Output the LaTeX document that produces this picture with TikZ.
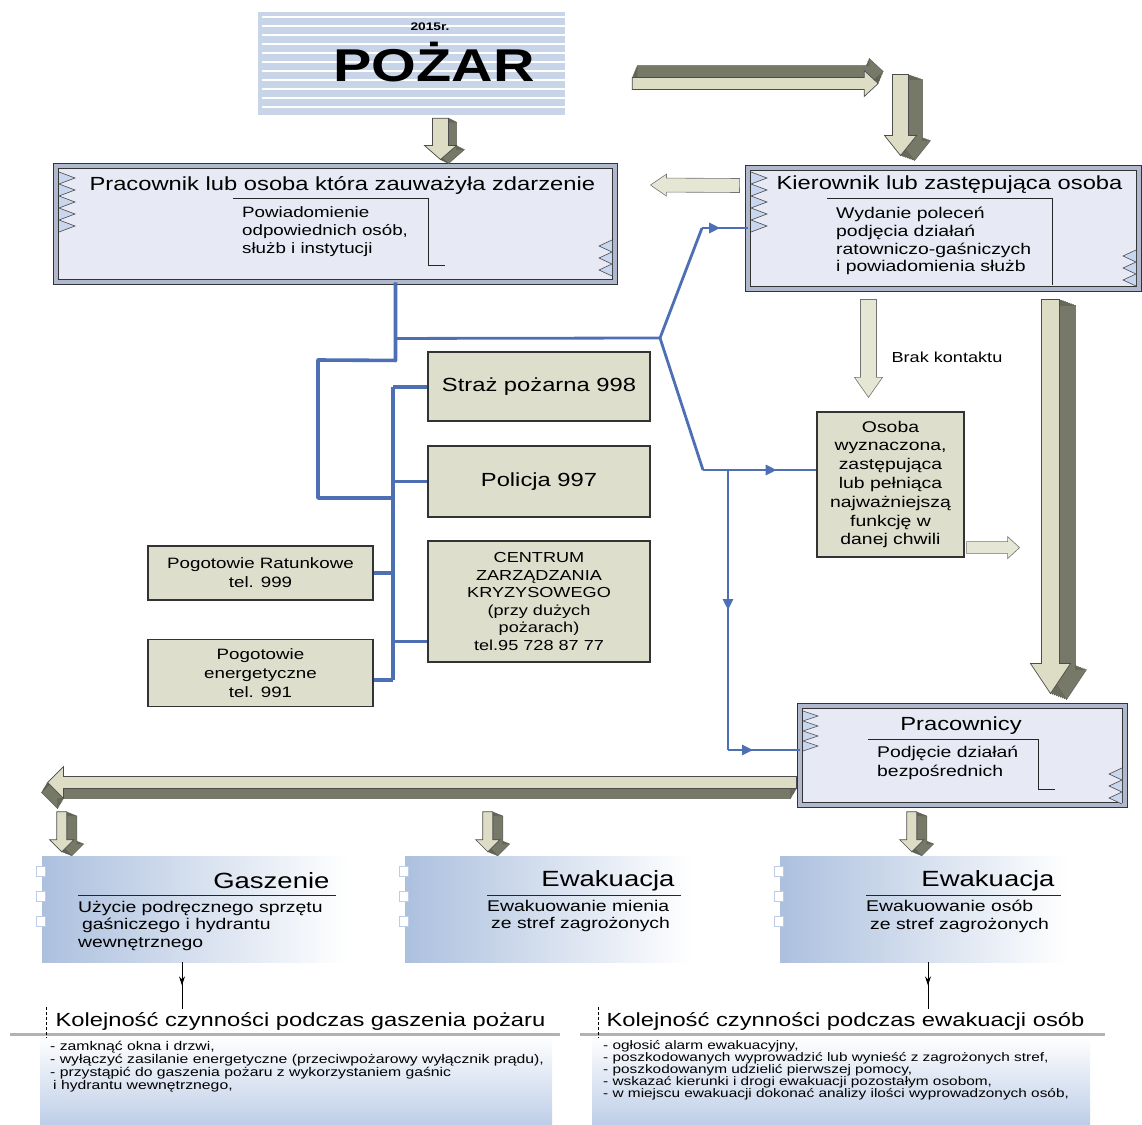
\documentclass[tikz,border=0pt]{standalone}
\usepackage{fontspec}
\setmainfont{Liberation Sans}[FakeStretch=1.25]
\usetikzlibrary{calc, arrows.meta, decorations.markings, positioning}
\definecolor{busBlue}{RGB}{77,112,180}
\definecolor{telBeige}{RGB}{221,222,204}
\definecolor{frameFill}{RGB}{231,234,245}
\definecolor{frameBand}{RGB}{176,184,206}
\definecolor{sawBlue}{RGB}{200,214,238}
\definecolor{arrowFace}{RGB}{221,221,198}
\definecolor{arrowSide}{RGB}{118,120,104}
\definecolor{arrowLight}{RGB}{230,230,212}
\definecolor{gradBlue}{RGB}{172,192,222}
\definecolor{pozarBlue}{RGB}{200,212,232}
\definecolor{panelBlue}{RGB}{190,206,232}

\newcommand{\fbig}{\fontsize{19}{22}\selectfont}
\newcommand{\fsub}{\fontsize{15}{18}\selectfont}
\newcommand{\fsmall}{\fontsize{15}{19}\selectfont}
\newcommand{\fhead}{\fontsize{22}{24}\selectfont}
\newcommand{\flist}{\fontsize{12.6}{13}\selectfont}

% block arrow: start, end, half shaft, half head, head length, style
\newcommand{\blockarr}[6]{%
  \coordinate (ba-s) at (#1);
  \coordinate (ba-e) at (#2);
  \coordinate (ba-h) at ($(ba-e)!#5pt!(ba-s)$);
  \path[#6] ($(ba-s)!#3pt!90:(ba-e)$) -- ($(ba-h)!#3pt!90:(ba-e)$) -- ($(ba-h)!#4pt!90:(ba-e)$)
    -- (ba-e) -- ($(ba-h)!#4pt!-90:(ba-e)$) -- ($(ba-h)!#3pt!-90:(ba-e)$) -- ($(ba-s)!#3pt!-90:(ba-e)$) -- cycle;
}
% same with a dark side, #6 = offset of the side
\newcommand{\blockthreed}[6]{%
  \foreach \k in {0.125,0.25,0.375,0.5,0.625,0.75,0.875,1} {%
    \begin{scope}[transform canvas={shift={($\k*(#6)$)}}]
      \blockarr{#1}{#2}{#3}{#4}{#5}{fill=arrowSide, draw=arrowSide!80!black, line width=0.5pt}
    \end{scope}}
  \blockarr{#1}{#2}{#3}{#4}{#5}{fill=arrowFace, draw=black!70, line width=0.7pt}
}
% zigzag edge: x, y, teeth, tooth height, tooth width
\newcommand{\saw}[5]{%
  \filldraw[fill=sawBlue, draw=black!70, line width=0.6pt] (#1,#2)
    \foreach \i in {1,...,#3} { -- ++({#5},{#4/2}) -- ++({-(#5)},{#4/2}) };
}

\begin{document}
\begin{tikzpicture}[x=1pt, y=-1pt,
    framebox/.style={rectangle, draw=black!80, line width=0.9pt, double=frameBand, double distance=4pt, fill=frameFill, inner sep=0pt},
    tel/.style={rectangle, draw=black!80, line width=1.2pt, fill=telBeige, align=center, inner sep=0pt},
    grad/.style={rectangle, left color=gradBlue, right color=white, inner sep=0pt},
    bus/.style={draw=busBlue, line width=3.6pt},
    buslink/.style={draw=busBlue, line width=2.8pt},
    flatarr/.style={fill=arrowLight, draw=black!55, line width=0.6pt},
    midarr/.style={postaction={decorate}, decoration={markings, mark=at position #1 with {\arrow[busBlue]{Triangle[length=11pt, width=10pt]}}}},
    tinyarr/.style={draw=black, line width=0.8pt, postaction={decorate}, decoration={markings, mark=at position 0.5 with {\arrow{Stealth[length=9pt, width=6pt]}}}}]

    \useasboundingbox (0,0) rectangle (1142,1124);

    % pozar
    \node[fill=pozarBlue, minimum width=307, minimum height=103, inner sep=0pt] (pozar) at (411.5,63.5) {};
    \foreach \yy in {17,26,...,110} \draw[white, line width=2.6pt] (262,\yy) -- (565,\yy);
    \node[font=\bfseries\fontsize{11}{12}\selectfont] (rok) at (430,27) {2015r.};
    \node[font=\bfseries\fontsize{46}{50}\selectfont] (pozar-t) at (434,62) {POŻAR};

    % main boxes
    \node[framebox, minimum width=559, minimum height=116] (prac) at (335.5,224) {};
    \node[framebox, minimum width=391, minimum height=121] (kier) at (943.5,228.5) {};
    \node[framebox, minimum width=325, minimum height=99] (pracw) at (962.5,755.5) {};

    \saw{59}{172}{5}{12}{16}
    \saw{612}{240}{3}{12}{-13}
    \saw{751}{172}{5}{12}{16}
    \saw{1136}{250}{3}{12}{-13}
    \saw{803}{711}{4}{10}{15}
    \saw{1122}{768}{3}{12}{-13}

    \node[anchor=west, font=\fbig] (prac-t) at (86,185) {Pracownik lub osoba która zauważyła zdarzenie};
    \draw[black!85, line width=1pt] (233,198) -- (428,198) -- (428,265) -- (445,265);
    \node[anchor=north west, align=left, inner sep=0pt, font=\fsub] (prac-s) at (242,206) {Powiadomienie\\odpowiednich osób,\\służb i instytucji};

    \node[anchor=west, font=\fbig] (kier-t) at (773,185) {Kierownik lub zastępująca osoba};
    \draw[black!85, line width=1pt] (827,198) -- (1052,198) -- (1052,285);
    \node[anchor=north west, align=left, inner sep=0pt, font=\fontsize{15.5}{17.7}\selectfont] (kier-s) at (836,207) {Wydanie poleceń\\podjęcia działań\\ratowniczo-gaśniczych\\i powiadomienia służb};

    \node[font=\fbig] (pracw-t) at (961,726) {Pracownicy};
    \draw[black!85, line width=1pt] (868,739) -- (1038,739) -- (1038,789) -- (1055,789);
    \node[anchor=north west, align=left, inner sep=0pt, font=\fontsize{15.5}{19}\selectfont] (pracw-s) at (877,746) {Podjęcie działań\\bezpośrednich};

    % services
    \node[tel, minimum width=222, minimum height=69, font=\fbig] (straz) at (539,386.5) {Straż pożarna 998};
    \node[tel, minimum width=222, minimum height=71, font=\fbig] (policja) at (539,481.5) {Policja 997};
    \node[tel, minimum width=222, minimum height=121, font=\fontsize{14.5}{17.6}\selectfont] (centrum) at (539,601.5)
        {CENTRUM\\ZARZĄDZANIA\\KRYZYSOWEGO\\(przy dużych\\pożarach)\\tel.95 728 87 77};
    \node[tel, minimum width=225, minimum height=54, font=\fsmall] (pograt) at (260.5,573) {Pogotowie Ratunkowe\\tel. 999};
    \node[tel, minimum width=225, minimum height=67, font=\fsmall] (pogen) at (260.5,673) {Pogotowie\\energetyczne\\tel. 991};
    \node[tel, minimum width=147, minimum height=145, font=\fontsize{15.5}{18.8}\selectfont] (osoba) at (890.5,484.5)
        {Osoba\\wyznaczona,\\zastępująca\\lub pełniąca\\najważniejszą\\funkcję w\\danej chwili};
    \node[anchor=west, font=\fontsize{14.5}{16}\selectfont] (brak) at (888,357) {Brak kontaktu};

    % blue lines
    \coordinate (j1) at ($(prac.south)+(60,56)$);
    \coordinate (j2) at ($(prac.south)+(60,78)$);
    \coordinate (jr) at (660,338);
    \coordinate (jk) at (702,228);
    \coordinate (jo) at (703,470);
    \coordinate (jv1) at (728,470);
    \coordinate (jv2) at (728,750);
    \coordinate (bt) at (393,387);
    \coordinate (jl) at (393,498);
    \coordinate (cl) at ($(centrum.west)+(0,40)$);
    \coordinate (el) at ($(pogen.east)+(0,7)$);
    \coordinate (bb) at (el -| bt);

    \draw[bus, line join=round] ($(prac.south)+(60,0)$) -- (j2) -- (318,360) -- (318,498) -- (jl);
    \draw[buslink] (j1) -- (jr);
    \draw[buslink] (jr) -- (jk);
    \draw[buslink, midarr=0.4] (jk) -- (jk -| kier.west);
    \draw[buslink] (jr) -- (jo);
    \draw[buslink, midarr=0.65] (jo) -- (jo -| osoba.west);
    \draw[buslink, midarr=0.5] (jv1) -- (jv2);
    \draw[buslink, midarr=0.35] (jv2) -- (jv2 -| pracw.west);

    \draw[bus] (bt) -- (bb);
    \draw[bus] (bt) -- (bt -| straz.west);
    \draw[bus] (policja.west -| bt) -- (policja.west);
    \draw[bus] (pograt.east) -- (pograt.east -| bt);
    \draw[bus] (cl -| bt) -- (cl);
    \draw[bus] (el) -- (bb);

    % block arrows
    \blockthreed{$(pozar.south)+(29,3)$}{$(prac.north)+(105,-6)$}{8}{16}{14}{8,4}
    \blockthreed{$(pozar.east)+(67,20)$}{$(pozar.east)+(313,20)$}{6}{13}{14}{5,-12}
    \blockthreed{$(kier.north)+(-43,-93)$}{$(kier.north)+(-43,-12)$}{8}{16}{20}{14,5}
    \blockthreed{$(kier.south)+(107,10)$}{$(pracw.north)+(88,-12)$}{9}{20}{30}{16,6}
    \blockarr{$(kier.west)+(-8,-43)$}{$(prac.east)+(35,-39)$}{7}{11}{16}{flatarr}
    \blockarr{$(kier.south)+(-75,10)$}{$(osoba.north)+(-22,-14)$}{8}{14}{20}{flatarr}
    \blockarr{$(osoba.south east)+(2,-10)$}{$(osoba.south east)+(55,-10)$}{6}{11}{12}{flatarr}

    % bottom boxes
    \node[grad, minimum width=306, minimum height=106] (gasz) at (195,909) {};
    \node[grad, minimum width=287, minimum height=106] (ewak1) at (548.5,909) {};
    \node[grad, minimum width=288, minimum height=106] (ewak2) at (924,909) {};
    \foreach \nx in {36,399,774} \foreach \ny in {866,891,916}
        \filldraw[fill=white, draw=gradBlue!80, line width=0.6pt] (\nx,\ny) rectangle ++(9,10);

    \blockthreed{$(pracw.west)+(-3,27)$}{$(pracw.west)+(-752,27)$}{6}{16}{16}{-6,10}
    \blockthreed{$(gasz.north west)+(20,-44)$}{$(gasz.north west)+(20,-4)$}{5}{12}{12}{10,4}
    \blockthreed{$(ewak1.north west)+(83,-44)$}{$(ewak1.north west)+(83,-4)$}{5}{12}{12}{10,4}
    \blockthreed{$(ewak2.north west)+(132,-44)$}{$(ewak2.north west)+(132,-4)$}{5}{12}{12}{10,4}

    \node[anchor=east, font=\fhead] (gasz-t) at (333,881) {Gaszenie};
    \draw[black!85, line width=1pt] (78,895) -- (336,895);
    \node[anchor=north west, align=left, inner sep=0pt, font=\fontsize{15.5}{17.5}\selectfont] (gasz-s) at (78,901)
        {Użycie podręcznego sprzętu\\\hspace{4pt}gaśniczego i hydrantu\\wewnętrznego};
    \node[anchor=east, font=\fhead] (ewak1-t) at (678,881) {Ewakuacja};
    \draw[black!85, line width=1pt] (487,895) -- (681,895);
    \node[anchor=north west, align=left, inner sep=0pt, font=\fontsize{15.5}{17.5}\selectfont] (ewak1-s) at (487,900)
        {Ewakuowanie mienia\\\hspace{4pt}ze stref zagrożonych};
    \node[anchor=east, font=\fhead] (ewak2-t) at (1058,881) {Ewakuacja};
    \draw[black!85, line width=1pt] (866,895) -- (1061,895);
    \node[anchor=north west, align=left, inner sep=0pt, font=\fontsize{15.5}{17.5}\selectfont] (ewak2-s) at (866,900)
        {Ewakuowanie osób\\\hspace{4pt}ze stref zagrożonych};

    % lists
    \shade[top color=white, bottom color=panelBlue] (40,1036) rectangle (552,1124);
    \shade[top color=white, bottom color=panelBlue] (592,1036) rectangle (1090,1124);
    \draw[gray!60, line width=3pt] (10,1034) -- (560,1034);
    \draw[gray!60, line width=3pt] (580,1034) -- (1105,1034);
    \draw[densely dashed, line width=0.9pt] (46,1007) -- (46,1038);
    \draw[densely dashed, line width=0.9pt] (598,1007) -- (598,1038);

    \node[anchor=west, font=\fbig] (kol1) at (52,1021) {Kolejność czynności podczas gaszenia pożaru};
    \node[anchor=west, font=\fbig] (kol2) at (603,1021) {Kolejność czynności podczas ewakuacji osób};
    \node[anchor=north west, align=left, inner sep=0pt, font=\flist] (kol1-l) at (50,1041)
        {- zamknąć okna i drzwi,\\- wyłączyć zasilanie energetyczne (przeciwpożarowy wyłącznik prądu),\\- przystąpić do gaszenia pożaru z wykorzystaniem gaśnic\\\hspace{3pt}i hydrantu wewnętrznego,};
    \node[anchor=north west, align=left, inner sep=0pt, font=\fontsize{12.3}{12}\selectfont] (kol2-l) at (603,1040)
        {- ogłosić alarm ewakuacyjny,\\- poszkodowanych wyprowadzić lub wynieść z zagrożonych stref,\\- poszkodowanym udzielić pierwszej pomocy,\\- wskazać kierunki i drogi ewakuacji pozostałym osobom,\\- w miejscu ewakuacji dokonać analizy ilości wyprowadzonych osób,};

    \coordinate (g1) at ($(gasz.south)+(-13,0)$);
    \coordinate (g2) at ($(ewak2.south)+(4,0)$);
    \draw[tinyarr] (g1) -- (g1 |- kol1.north);
    \draw[tinyarr] (g2) -- (g2 |- kol2.north);
\end{tikzpicture}
\end{document}
